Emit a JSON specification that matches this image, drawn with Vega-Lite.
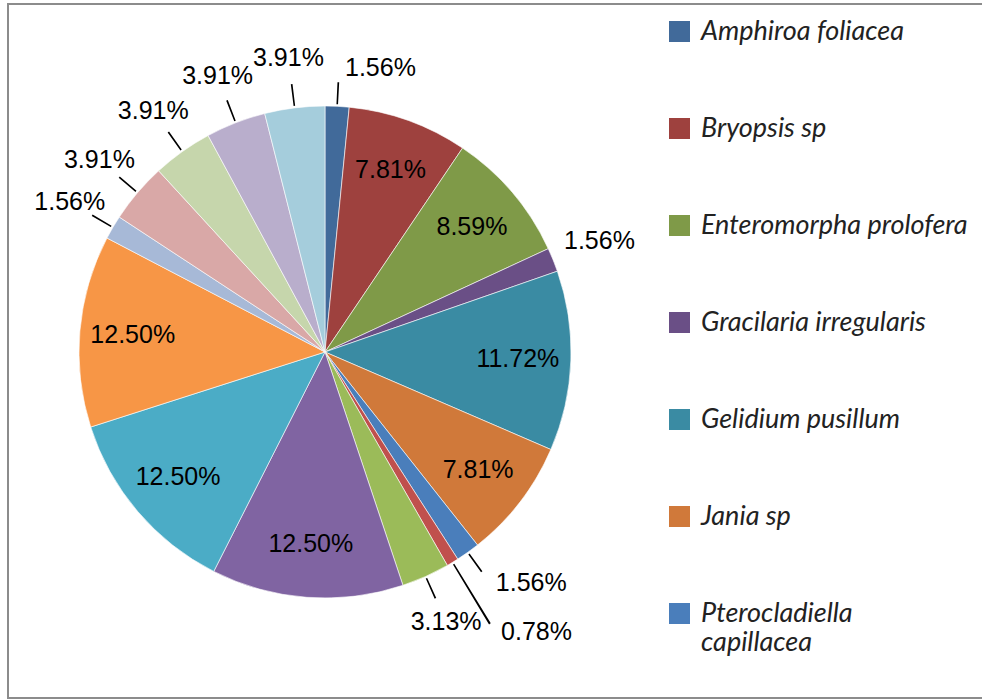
{
  "$schema": "https://vega.github.io/schema/vega-lite/v6.json",
  "autosize": {"type": "none"},
  "width": 977,
  "height": 694,
  "padding": {"left": 8, "top": 4, "right": -3, "bottom": 1},
  "background": "white",
  "config": {"view": {"stroke": "#8c8c8c", "strokeWidth": 2}, "legend": {"labelLineHeight": 47}},
  "data": {
    "values": [
      {"idx": 1, "name": "Amphiroa foliacea", "pct": 0.0156},
      {"idx": 2, "name": "Bryopsis sp", "pct": 0.0781},
      {"idx": 3, "name": "Enteromorpha prolofera", "pct": 0.0859},
      {"idx": 4, "name": "Gracilaria irregularis", "pct": 0.0156},
      {"idx": 5, "name": "Gelidium pusillum", "pct": 0.1172},
      {"idx": 6, "name": "Jania sp", "pct": 0.0781},
      {"idx": 7, "name": "Pterocladiella capillacea", "pct": 0.0156},
      {"idx": 8, "name": "Species 8", "pct": 0.0078},
      {"idx": 9, "name": "Species 9", "pct": 0.0313},
      {"idx": 10, "name": "Species 10", "pct": 0.125},
      {"idx": 11, "name": "Species 11", "pct": 0.125},
      {"idx": 12, "name": "Species 12", "pct": 0.125},
      {"idx": 13, "name": "Species 13", "pct": 0.0156},
      {"idx": 14, "name": "Species 14", "pct": 0.0391},
      {"idx": 15, "name": "Species 15", "pct": 0.0391},
      {"idx": 16, "name": "Species 16", "pct": 0.0391},
      {"idx": 17, "name": "Species 17", "pct": 0.0391}
    ]
  },
  "transform": [
    {"stack": "pct", "groupby": [], "sort": [{"field": "idx", "order": "ascending"}], "as": ["s0", "s1"]},
    {"calculate": "(datum.s0 + datum.s1) / 2", "as": "mid"},
    {"calculate": "datum.mid - 0.0005", "as": "m0"},
    {"calculate": "datum.mid + 0.0005", "as": "m1"}
  ],
  "encoding": {
    "x": {"value": 317},
    "y": {"value": 348}
  },
  "layer": [
    {
      "mark": {"type": "arc", "outerRadius": 246, "stroke": "#ffffff", "strokeWidth": 0.6},
      "encoding": {
        "theta": {"field": "s0", "type": "quantitative", "stack": null, "scale": {"domain": [0, 0.9922]}},
        "theta2": {"field": "s1"},
        "color": {
          "field": "name",
          "type": "nominal",
          "sort": null,
          "scale": {
            "domain": ["Amphiroa foliacea", "Bryopsis sp", "Enteromorpha prolofera", "Gracilaria irregularis", "Gelidium pusillum", "Jania sp", "Pterocladiella capillacea", "Species 8", "Species 9", "Species 10", "Species 11", "Species 12", "Species 13", "Species 14", "Species 15", "Species 16", "Species 17"],
            "range": ["#416a9a", "#9e413e", "#7f9a48", "#6a4f86", "#3a8ba3", "#d0793a", "#4a7ebb", "#c0504d", "#9bbb59", "#8064a2", "#4bacc6", "#f79646", "#a7b9d7", "#d9a8a7", "#c6d6ac", "#b9aecc", "#a5cddc"]
          },
          "legend": {
            "orient": "none",
            "legendX": 658,
            "legendY": 14,
            "title": null,
            "values": ["Amphiroa foliacea", "Bryopsis sp", "Enteromorpha prolofera", "Gracilaria irregularis", "Gelidium pusillum", "Jania sp", "Pterocladiella capillacea"],
            "symbolType": "square",
            "symbolSize": 441,
            "symbolStrokeWidth": 0,
            "labelFont": "Lato",
            "labelFontStyle": "italic",
            "labelFontSize": 27,
            "labelColor": "#222222",
            "labelOffset": 8,
            "labelLimit": 320,
            "rowPadding": 69,
            "labelExpr": "datum.label == 'Pterocladiella capillacea' ? ['Pterocladiella', 'capillacea'] : datum.label"
          }
        }
      }
    },
    {
      "transform": [{"filter": {"field": "idx", "oneOf": [1, 7, 9, 13, 14, 15, 16, 17]}}],
      "mark": {"type": "arc", "innerRadius": 248, "outerRadius": 270, "color": "#000000"},
      "encoding": {
        "theta": {"field": "m0", "type": "quantitative", "stack": null},
        "theta2": {"field": "m1"}
      }
    },
    {
      "transform": [{"filter": {"field": "idx", "oneOf": [8]}}],
      "mark": {"type": "arc", "innerRadius": 248, "outerRadius": 318, "color": "#000000"},
      "encoding": {
        "theta": {"field": "m0", "type": "quantitative", "stack": null},
        "theta2": {"field": "m1"}
      }
    },
    {
      "transform": [{"filter": "datum.pct >= 0.07"}],
      "mark": {"type": "text", "radius": 193, "font": "Liberation Sans", "fontSize": 25, "color": "#000000"},
      "encoding": {
        "theta": {"field": "mid", "type": "quantitative", "stack": null},
        "text": {"field": "pct", "type": "quantitative", "format": ".2%"}
      }
    },
    {
      "transform": [{"filter": {"field": "idx", "oneOf": [4, 9, 13, 14, 15, 16, 17]}}],
      "mark": {"type": "text", "radius": 296, "font": "Liberation Sans", "fontSize": 25, "color": "#000000"},
      "encoding": {
        "theta": {"field": "mid", "type": "quantitative", "stack": null},
        "text": {"field": "pct", "type": "quantitative", "format": ".2%"}
      }
    },
    {
      "transform": [{"filter": {"field": "idx", "oneOf": [1, 7]}}],
      "mark": {"type": "text", "radius": 284, "align": "left", "dx": 6, "font": "Liberation Sans", "fontSize": 25, "color": "#000000"},
      "encoding": {
        "theta": {"field": "mid", "type": "quantitative", "stack": null},
        "text": {"field": "pct", "type": "quantitative", "format": ".2%"}
      }
    },
    {
      "transform": [{"filter": {"field": "idx", "oneOf": [8]}}],
      "mark": {"type": "text", "radius": 328, "align": "left", "dx": 6, "font": "Liberation Sans", "fontSize": 25, "color": "#000000"},
      "encoding": {
        "theta": {"field": "mid", "type": "quantitative", "stack": null},
        "text": {"field": "pct", "type": "quantitative", "format": ".2%"}
      }
    }
  ]
}
